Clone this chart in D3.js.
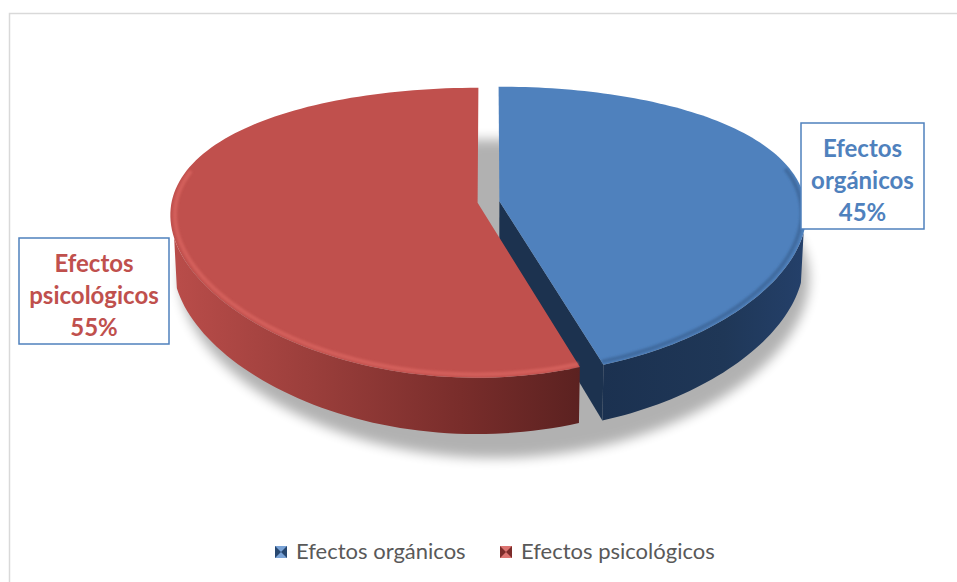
<!DOCTYPE html>
<html>
<head>
<meta charset="utf-8">
<script src="https://cdn.jsdelivr.net/npm/d3@7"></script>
<style>
  body { margin: 0; background: #fff; }
  svg { display: block; }
</style>
</head>
<body>
<div id="chart"></div>
<script>
// Data
var categories = ['Efectos orgánicos', 'Efectos psicológicos'];
var values = [45, 55];
var labelLines = [['Efectos', 'orgánicos', '45%'], ['Efectos', 'psicológicos', '55%']];

// Colours per slice: top face, wall, cut face, rim
var topColors = ['#4F81BD', '#C0504D'];
var wallStops = [
  [['0%', '#1B3150'], ['60%', '#1F3757'], ['100%', '#24406A']],
  [['0%', '#BA4D4A'], ['35%', '#9A3E3B'], ['70%', '#792D2B'], ['100%', '#5A2120']]
];
var cutColors = ['#1C324F', '#6A2624'];
var rimColors = ['#3C6699', '#D8645F'];
var legendLight = ['#7AA3D6', '#DC7471'];
var legendDark = ['#27476F', '#7C2C2A'];

var W = 957, H = 582;

// 3D projection settings
var k = 295, kx = 306, phi = 28 * Math.PI / 180, D = 4.28, thick = 0.19, explode = 0.036;
var cx = 488.5, cy = 202;
var sinP = Math.sin(phi), cosP = Math.cos(phi);

function project(x, z, h) {
  var Y = h * cosP - z * sinP;
  var Wd = h * sinP + z * cosP;
  var s = D / (D - Wd);
  // horizontal perspective is flatter than the vertical one in the original
  return [cx + kx * x * Math.pow(s, 0.4), cy - k * Y * s];
}

var svg = d3.select('#chart').append('svg')
  .attr('width', W)
  .attr('height', H);

// chart frame
svg.append('rect')
  .attr('x', 9.5).attr('y', 13.5)
  .attr('width', W + 20).attr('height', H + 20)
  .attr('fill', '#fff')
  .attr('stroke', '#D9D9D9')
  .attr('stroke-width', 1.5);

var defs = svg.append('defs');
var blur = defs.append('filter').attr('id', 'shadowBlur')
  .attr('x', '-20%').attr('y', '-20%').attr('width', '140%').attr('height', '140%');
blur.append('feGaussianBlur').attr('stdDeviation', 6);

var soft = defs.append('filter').attr('id', 'softEdge')
  .attr('x', '-10%').attr('y', '-10%').attr('width', '120%').attr('height', '120%');
soft.append('feGaussianBlur').attr('stdDeviation', 1.2);

wallStops.forEach(function(stops, i) {
  var g = defs.append('linearGradient')
    .attr('id', 'wall' + i)
    .attr('gradientUnits', 'userSpaceOnUse')
    .attr('x1', i === 0 ? 600 : 170).attr('x2', i === 0 ? 805 : 585)
    .attr('y1', 0).attr('y2', 0);
  stops.forEach(function(s) {
    g.append('stop').attr('offset', s[0]).attr('stop-color', s[1]);
  });
});

var pie = d3.pie().sort(null).value(function(d) { return d; });
var arcs = pie(values);

var line = d3.line();
var N = 120;

function sliceGeom(a) {
  var mid = (a.startAngle + a.endAngle) / 2;
  var ox = Math.sin(mid) * explode, oz = -Math.cos(mid) * explode;
  var rimAngles = d3.range(N + 1).map(function(j) {
    return a.startAngle + (a.endAngle - a.startAngle) * j / N;
  });
  function rim(t, h) { return project(ox + Math.sin(t), oz - Math.cos(t), h); }
  return { ox: ox, oz: oz, rimAngles: rimAngles, rim: rim,
           apex: function(h) { return project(ox, oz, h); } };
}

var geoms = arcs.map(sliceGeom);

// shadow below the pie
var shadowPts = d3.range(121).map(function(j) {
  var t = j / 120 * 2 * Math.PI;
  var p = project(Math.sin(t) * 1.03, -Math.cos(t) * 1.03 + 0.04, -thick);
  return [p[0] + 6, p[1] + 9];
});
svg.append('path')
  .attr('d', line(shadowPts) + 'Z')
  .attr('fill', '#000')
  .attr('opacity', 0.3)
  .attr('filter', 'url(#shadowBlur)');

// draw blue first, red in front of it
var order = [0, 1];
var limit = -1 / (D * cosP);

order.forEach(function(i) {
  var a = arcs[i], g = geoms[i];
  var grp = svg.append('g').attr('class', 'slice slice-' + i);

  // outer wall, visible part only
  var vis = g.rimAngles.filter(function(t) { return Math.cos(t) < limit + 0.05; });
  if (vis.length > 1) {
    var topPts = vis.map(function(t) { return g.rim(t, 0); });
    var botPts = vis.slice().reverse().map(function(t) { return g.rim(t, -thick); });
    grp.append('path')
      .attr('d', line(topPts.concat(botPts)) + 'Z')
      .attr('fill', 'url(#wall' + i + ')');
  }

  // cut face at the end angle (visible for the first slice only)
  if (i === 0) {
    var t = a.endAngle;
    var quad = [g.apex(0), g.rim(t, 0), g.rim(t, -thick), g.apex(-thick)];
    grp.append('path')
      .attr('d', line(quad) + 'Z')
      .attr('fill', cutColors[i]);
  }

  // top face
  var face = [g.apex(0)].concat(g.rimAngles.map(function(t) { return g.rim(t, 0); }));
  grp.append('path')
    .attr('d', line(face) + 'Z')
    .attr('fill', topColors[i]);

  // bevel highlight along the front rim
  var front = g.rimAngles.filter(function(t) { return Math.cos(t) < 0.25; });
  var rimPts = front.map(function(t) {
    return project(g.ox + Math.sin(t) * 0.985, g.oz - Math.cos(t) * 0.985, 0);
  });
  grp.append('path')
    .attr('d', line(rimPts))
    .attr('fill', 'none')
    .attr('stroke', rimColors[i])
    .attr('stroke-width', 4)
    .attr('opacity', 0.8)
    .attr('filter', 'url(#softEdge)');
});

// data labels
var labelFont = 'Lato, "Noto Sans", sans-serif';
var labelBoxes = [
  { x: 801, y: 123, w: 123, h: 106 },
  { x: 19, y: 238, w: 150, h: 106 }
];
labelBoxes.forEach(function(b, i) {
  var lg = svg.append('g').attr('class', 'label');
  lg.append('rect')
    .attr('x', b.x).attr('y', b.y)
    .attr('width', b.w).attr('height', b.h)
    .attr('fill', '#fff')
    .attr('stroke', '#4F81BD')
    .attr('stroke-width', 1.5);
  labelLines[i].forEach(function(txt, j) {
    lg.append('text')
      .attr('x', b.x + b.w / 2)
      .attr('y', b.y + 34 + j * 32)
      .attr('text-anchor', 'middle')
      .attr('font-family', labelFont)
      .attr('font-weight', 'bold')
      .attr('font-size', 24)
      .attr('fill', topColors[i])
      .text(txt);
  });
});

// legend
var legendX = [275, 500];
var legend = svg.append('g').attr('class', 'legend');
categories.forEach(function(c, i) {
  var x = legendX[i], y = 546, s = 12;
  var lg = legend.append('g');
  lg.append('rect').attr('x', x).attr('y', y).attr('width', s).attr('height', s)
    .attr('fill', legendLight[i]);
  lg.append('path')
    .attr('d', 'M' + x + ',' + y + 'L' + (x + s / 2) + ',' + (y + s / 2) + 'L' + x + ',' + (y + s) + 'Z')
    .attr('fill', legendDark[i]);
  lg.append('path')
    .attr('d', 'M' + (x + s) + ',' + y + 'L' + (x + s / 2) + ',' + (y + s / 2) + 'L' + (x + s) + ',' + (y + s) + 'Z')
    .attr('fill', legendDark[i]);
  lg.append('text')
    .attr('x', x + 21)
    .attr('y', y + 12.5)
    .attr('font-family', labelFont)
    .attr('font-size', 22)
    .attr('fill', '#595959')
    .text(c);
});
</script>
</body>
</html>
